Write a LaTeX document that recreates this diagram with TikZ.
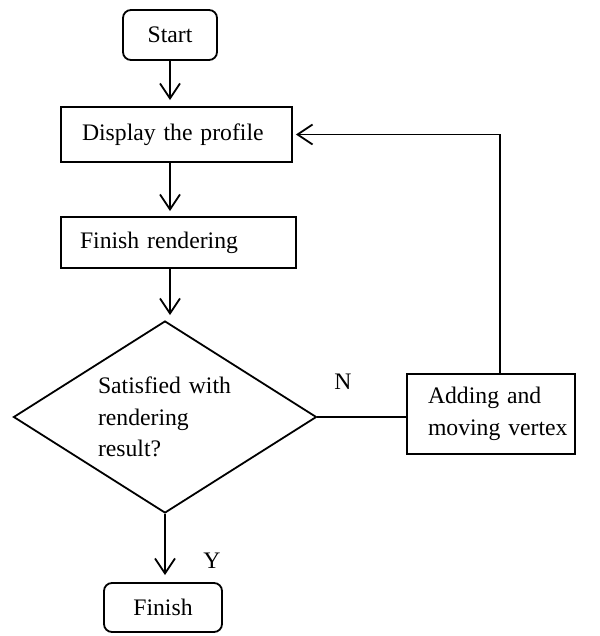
\documentclass[tikz,border=0pt]{standalone}
\usepackage{fontspec}
\setmainfont{Liberation Serif}
\usetikzlibrary{positioning,arrows.meta,shapes.geometric}

\begin{document}
\begin{tikzpicture}[x=1pt,y=-1pt,
    box/.style={draw,line width=1.8pt,inner ysep=0pt,align=left},
    term/.style={draw,line width=1.8pt,rounded corners=8pt,inner sep=0pt},
    flow/.style={line width=1.8pt,-{Straight Barb[length=15pt,width=20pt]}},
    every node/.style={font=\fontsize{23.7pt}{31.5pt}\selectfont}]
  \useasboundingbox (0,0) rectangle (599,636);
  \node[term,minimum width=94pt,minimum height=50pt] (start) at (170,35) {Start};
  \node[box,minimum height=55pt,text width=189pt,inner xsep=21pt] (disp) at (176.5,134.5) {Display the profile};
  \node[box,minimum height=51pt,text width=197pt,inner xsep=19pt] (rend) at (178.5,242.5) {Finish rendering};
  \node[draw,diamond,line width=1.8pt,shape aspect=1.58,minimum width=303pt,minimum height=192pt,
        inner sep=0pt,text width=134pt,align=left] (check) at (165,417) {Satisfied with\\rendering\\result?};
  \node[box,minimum height=80pt,text width=126pt,inner xsep=21pt] (add) at (491,414) {\mbox{Adding and}\\\mbox{moving vertex}};
  \node[term,minimum width=118pt,minimum height=49pt] (finish) at (163,607.5) {Finish};
  \node (no) at (343,382) {N};
  \node (yes) at (212,561) {Y};
  \draw[flow,shorten >=6pt] (start) -- (disp.north -| start);
  \draw[flow,shorten >=5pt] (disp.south -| start) -- (rend.north -| start);
  \draw[flow,shorten >=5pt] (rend.south -| start) -- (check.north -| start);
  \draw[flow,shorten >=7pt] (check.south) -- (finish.north -| check.south);
  \draw[line width=1.8pt] (check.east) -- (check.east -| add.west);
  \draw[flow,shorten >=3pt] ([xshift=9pt]add.north) |- (disp.east);
\end{tikzpicture}
\end{document}
